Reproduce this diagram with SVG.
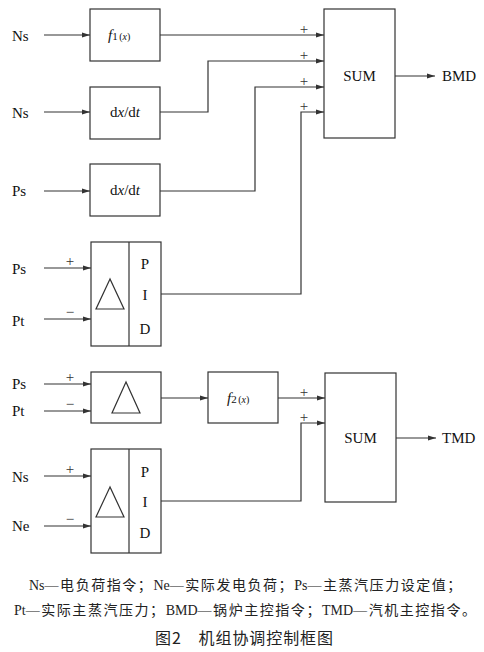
<svg xmlns="http://www.w3.org/2000/svg" width="484" height="652" viewBox="0 0 484 652">
<defs>
<marker id="ah" viewBox="0 0 8 6" refX="8" refY="3" markerWidth="8" markerHeight="6" markerUnits="userSpaceOnUse" orient="auto">
<path d="M0,0.6 L8,3 L0,5.4 Z" fill="#333"/>
</marker>
<style>
.box{fill:#fff;stroke:#333;stroke-width:1.2}
.ln{fill:none;stroke:#333;stroke-width:1.2}
.ar{fill:none;stroke:#333;stroke-width:1.2;marker-end:url(#ah)}
.lb{font-family:"Liberation Serif","Times New Roman",serif;font-size:15px;fill:#111}
.sg{font-family:"Liberation Serif",serif;font-size:15px;fill:#333}
.cap{font-family:"Liberation Serif","Noto Sans CJK SC",serif;font-size:14px;fill:#222}
.cj{letter-spacing:1.55px}
.ttl{font-family:"Noto Sans CJK SC","Noto Sans",sans-serif;font-size:16px;fill:#222}
</style>
</defs>
<rect width="484" height="652" fill="#fff"/>

<g id="labels" class="lb">
<text x="12" y="41">Ns</text>
<text x="12" y="118">Ns</text>
<text x="12" y="196">Ps</text>
<text x="12" y="274">Ps</text>
<text x="12" y="326">Pt</text>
<text x="12" y="389">Ps</text>
<text x="12" y="416">Pt</text>
<text x="12" y="482">Ns</text>
<text x="12" y="531">Ne</text>
<text x="442" y="81">BMD</text>
<text x="442" y="443">TMD</text>
</g>

<g id="f1">
<rect class="box" x="90" y="9" width="70" height="52"/>
<text x="108" y="40" class="lb" font-style="italic">f<tspan font-size="11" font-style="normal">1</tspan><tspan font-size="10" font-style="normal" dx="1.5">(</tspan><tspan font-size="10">x</tspan><tspan font-size="10" font-style="normal">)</tspan></text>
</g>
<g id="ddt1">
<rect class="box" x="90" y="87" width="70" height="52"/>
<text x="125" y="117" class="lb" text-anchor="middle">d<tspan font-style="italic">x</tspan>/d<tspan font-style="italic">t</tspan></text>
</g>
<g id="ddt2">
<rect class="box" x="90" y="164" width="70" height="52"/>
<text x="125" y="195" class="lb" text-anchor="middle">d<tspan font-style="italic">x</tspan>/d<tspan font-style="italic">t</tspan></text>
</g>
<g id="pid1">
<rect class="box" x="91" y="242" width="70" height="104"/>
<line class="ln" x1="129" y1="242" x2="129" y2="346"/>
<polygon class="ln" points="110,279 96,309 124,309"/>
<text x="145" y="269" class="lb" text-anchor="middle">P</text>
<text x="145" y="300" class="lb" text-anchor="middle">I</text>
<text x="145" y="334" class="lb" text-anchor="middle">D</text>
</g>
<g id="sum1">
<rect class="box" x="324" y="9" width="71" height="129"/>
<text x="359.5" y="81" class="lb" text-anchor="middle">SUM</text>
</g>
<g id="delta">
<rect class="box" x="91" y="372" width="70" height="51"/>
<polygon class="ln" points="126,382 112,413 140,413"/>
</g>
<g id="f2">
<rect class="box" x="208" y="372" width="70" height="51"/>
<text x="227" y="403" class="lb" font-style="italic">f<tspan font-size="11" font-style="normal">2</tspan><tspan font-size="10" font-style="normal" dx="1.5">(</tspan><tspan font-size="10">x</tspan><tspan font-size="10" font-style="normal">)</tspan></text>
</g>
<g id="pid2">
<rect class="box" x="91" y="449" width="70" height="104"/>
<line class="ln" x1="129" y1="449" x2="129" y2="553"/>
<polygon class="ln" points="110,487 96,517 124,517"/>
<text x="145" y="477" class="lb" text-anchor="middle">P</text>
<text x="145" y="507" class="lb" text-anchor="middle">I</text>
<text x="145" y="538" class="lb" text-anchor="middle">D</text>
</g>
<g id="sum2">
<rect class="box" x="325" y="373" width="71" height="129"/>
<text x="360.5" y="443" class="lb" text-anchor="middle">SUM</text>
</g>

<g id="connectors">
<line class="ar" x1="44" y1="35" x2="90" y2="35"/>
<line class="ar" x1="44" y1="112" x2="90" y2="112"/>
<line class="ar" x1="44" y1="191" x2="90" y2="191"/>
<line class="ar" x1="44" y1="268" x2="91" y2="268"/>
<line class="ar" x1="44" y1="319" x2="91" y2="319"/>
<line class="ar" x1="44" y1="384" x2="91" y2="384"/>
<line class="ar" x1="44" y1="411" x2="91" y2="411"/>
<line class="ar" x1="44" y1="476" x2="91" y2="476"/>
<line class="ar" x1="44" y1="526" x2="91" y2="526"/>
<polyline class="ar" points="160,35 324,35"/>
<polyline class="ar" points="160,112 208,112 208,61 324,61"/>
<polyline class="ar" points="160,191 255,191 255,87 324,87"/>
<polyline class="ar" points="161,294 301,294 301,112 324,112"/>
<line class="ar" x1="395" y1="76" x2="435" y2="76"/>
<line class="ar" x1="161" y1="398" x2="208" y2="398"/>
<polyline class="ar" points="278,398 325,398"/>
<polyline class="ar" points="161,501 301,501 301,423 325,423"/>
<line class="ar" x1="396" y1="438" x2="436" y2="438"/>
</g>

<g id="signs" class="sg" text-anchor="middle">
<text x="304" y="34">+</text>
<text x="304" y="60">+</text>
<text x="304" y="86">+</text>
<text x="304" y="111">+</text>
<text x="70" y="266">+</text>
<text x="70" y="317">−</text>
<text x="70" y="382">+</text>
<text x="70" y="409">−</text>
<text x="70" y="474">+</text>
<text x="70" y="524">−</text>
<text x="304" y="397">+</text>
<text x="304" y="422">+</text>
</g>

<g id="caption">
<text class="cap" x="29" y="590">Ns<tspan class="cj">—电负荷指令；</tspan>Ne<tspan class="cj">—实际发电负荷；</tspan>Ps<tspan class="cj">—主蒸汽压力设定值；</tspan></text>
<text class="cap" x="14" y="615">Pt<tspan class="cj">—实际主蒸汽压力；</tspan>BMD<tspan class="cj">—锅炉主控指令；</tspan>TMD<tspan class="cj">—汽机主控指令。</tspan></text>
<text class="ttl" x="155" y="644" textLength="178" lengthAdjust="spacing">图2　机组协调控制框图</text>
</g>
</svg>
